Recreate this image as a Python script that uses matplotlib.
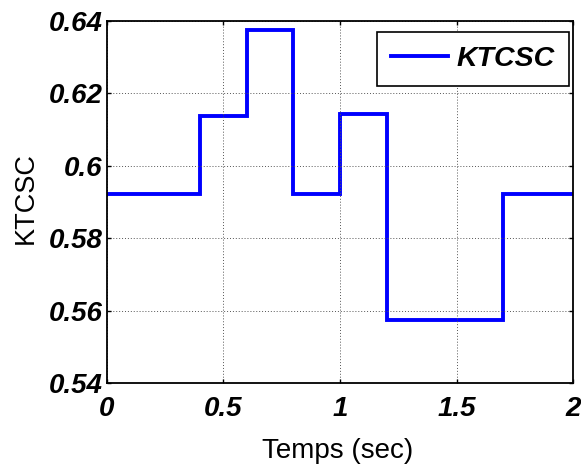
import matplotlib
matplotlib.use("Agg")
import matplotlib.pyplot as plt
from matplotlib.ticker import FixedLocator

# Switching instants (s) and KTCSC level held from each instant
t_edges = [0.0, 0.4, 0.6, 0.8, 1.0, 1.2, 1.7, 2.0]
k_levels = [0.5923, 0.6136, 0.6375, 0.5923, 0.6144, 0.5574, 0.5923]

x_ticks = [0, 0.5, 1, 1.5, 2]
x_tick_labels = ["0", "0.5", "1", "1.5", "2"]
y_ticks = [0.54, 0.56, 0.58, 0.60, 0.62, 0.64]
y_tick_labels = ["0.54", "0.56", "0.58", "0.6", "0.62", "0.64"]

plt.rcParams["font.family"] = ["Liberation Sans", "DejaVu Sans"]

fig = plt.figure(figsize=(5.81, 4.72), dpi=100)
ax = fig.add_axes([0.1836, 0.1879, 0.8031, 0.7682])

ax.stairs(k_levels, t_edges, color="#0000ff", linewidth=2.8, label="KTCSC",
          baseline=None)

ax.set_xlim(0, 2)
ax.set_ylim(0.54, 0.64)
ax.xaxis.set_major_locator(FixedLocator(x_ticks))
ax.yaxis.set_major_locator(FixedLocator(y_ticks))
tick_font = dict(size=20, weight="bold", style="italic")
ax.set_xticklabels(x_tick_labels, fontdict=tick_font)
ax.set_yticklabels(y_tick_labels, fontdict=tick_font)
ax.tick_params(direction="in", length=3, width=1, top=True, right=True)
ax.tick_params(axis="x", pad=9)
ax.tick_params(axis="y", pad=3)

ax.grid(True, color="#555555", linestyle=(0, (1, 2)), linewidth=0.7)
for s in ax.spines.values():
    s.set_linewidth(1.3)

ax.set_xlabel("Temps (sec)", fontsize=20)
ax.xaxis.set_label_coords(0.4957, -0.152)
ax.set_ylabel("KTCSC", fontsize=19.5)
ax.yaxis.set_label_coords(-0.145, 0.51)

leg = ax.legend(loc="upper right", bbox_to_anchor=(0.991, 0.969),
                borderaxespad=0, fancybox=False, framealpha=1,
                edgecolor="black", handlelength=2.0, handletextpad=0.3,
                borderpad=0.5,
                prop={"size": 20.5, "weight": "bold", "style": "italic"})
leg.get_frame().set_linewidth(1.2)

fig.savefig("out.png", dpi=100)
